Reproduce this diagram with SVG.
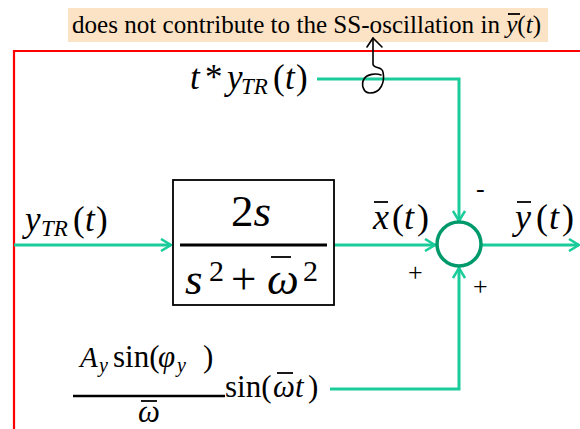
<svg xmlns="http://www.w3.org/2000/svg" width="580" height="429" viewBox="0 0 580 429">
<style>
.i{font-style:italic}
.g{stroke:#1ACC99;stroke-width:3;fill:none}
.ob{stroke:#000;stroke-width:1.8}
</style>
<defs>
<marker id="ah" markerWidth="14" markerHeight="14" refX="11" refY="7" orient="auto" markerUnits="userSpaceOnUse">
<path d="M1,1 L11,7 L1,13" fill="none" stroke="#1ACC99" stroke-width="2.5"/>
</marker>
</defs>
<rect x="0" y="0" width="580" height="429" fill="#fff"/>
<g font-family="Liberation Serif" fill="#000">
<g id="note">
<rect x="68" y="8" width="480" height="34" fill="#FCE3C5"/>
<text x="72" y="33" font-size="25.1">does not contribute to the SS-oscillation in <tspan class="i">y</tspan>(<tspan class="i">t</tspan>)</text>
<line class="ob" x1="508" y1="14" x2="520" y2="14" stroke-width="1.5"/>
</g>
<g id="frame">
<path d="M14,429 L14,51 L580,51" fill="none" stroke="#F00" stroke-width="2.2"/>
</g>
<g id="connectors">
<path class="g" d="M317,79 L459,79 L459,221" marker-end="url(#ah)"/>
<path class="g" d="M14,245 L171,245" marker-end="url(#ah)"/>
<path class="g" d="M334,245 L435,245" marker-end="url(#ah)"/>
<path class="g" d="M482,245 L579,245" marker-end="url(#ah)"/>
<path class="g" d="M330,389 L459,389 L459,268" marker-end="url(#ah)"/>
</g>
<g id="hand-arrow" fill="none" stroke="#000" stroke-width="1.6" stroke-linecap="round" stroke-linejoin="round">
<path d="M373,38 L373,64 C373,69 382,66 383,72 C385,82 381,93 370,93 C363,93 361,84 364,79 C367,74 376,73 381,75"/>
<path d="M367,47 L373,38 L382,47"/>
</g>
<g id="label-tytr" font-size="35">
<text y="89"><tspan class="i" x="190">t</tspan><tspan x="205">*</tspan><tspan class="i" x="227">y</tspan><tspan class="i" x="241" dy="5" font-size="23">TR</tspan><tspan x="273" dy="-5">(</tspan><tspan class="i" x="285">t</tspan><tspan x="296">)</tspan></text>
</g>
<g id="label-ytr" font-size="35">
<text y="231"><tspan class="i" x="25">y</tspan><tspan class="i" x="41" dy="5" font-size="23">TR</tspan><tspan x="73" dy="-5">(</tspan><tspan class="i" x="85">t</tspan><tspan x="96">)</tspan></text>
</g>
<g id="block">
<rect x="173" y="180" width="161" height="125" fill="#fff" stroke="#000" stroke-width="1.8"/>
<line x1="180" y1="245" x2="327" y2="245" stroke="#000" stroke-width="3.2"/>
<text x="251" y="226" font-size="45" text-anchor="middle">2<tspan class="i">s</tspan></text>
<text class="i" x="185" y="294" font-size="45">s</text>
<text x="209" y="281" font-size="30">2</text>
<text x="231" y="294" font-size="45">+</text>
<text class="i" x="267" y="294" font-size="45">ω</text>
<line class="ob" x1="271" y1="257" x2="291" y2="257" stroke-width="2.5"/>
<text x="303" y="281" font-size="30">2</text>
</g>
<g id="label-xbar" font-size="36">
<text y="229"><tspan class="i" x="373">x</tspan><tspan x="392">(</tspan><tspan class="i" x="404">t</tspan><tspan x="417">)</tspan></text>
<line class="ob" x1="374" y1="202" x2="388" y2="202" stroke-width="2"/>
</g>
<g id="sum">
<circle cx="459" cy="244" r="22" fill="#fff" stroke="#00996B" stroke-width="3.5"/>
<text x="476" y="197" font-size="26">-</text>
<text x="408" y="281" font-size="26">+</text>
<text x="473" y="295" font-size="26">+</text>
</g>
<g id="label-ybar" font-size="36">
<text y="229"><tspan class="i" x="515">y</tspan><tspan x="536">(</tspan><tspan class="i" x="549">t</tspan><tspan x="562">)</tspan></text>
<line class="ob" x1="517" y1="202" x2="531" y2="202" stroke-width="2"/>
</g>
<g id="label-sin" font-size="31">
<text y="367"><tspan class="i" x="80" font-size="29">A</tspan><tspan class="i" x="99" dy="5" font-size="20">y</tspan><tspan x="113" dy="-5">sin(</tspan><tspan class="i" x="158">φ</tspan><tspan class="i" x="177" dy="5" font-size="20">y</tspan><tspan x="203" dy="-5">)</tspan></text>
<line x1="73" y1="396" x2="225" y2="396" stroke="#000" stroke-width="2.5"/>
<text class="i" x="138" y="422" font-size="31">ω</text>
<line class="ob" x1="141" y1="401" x2="157" y2="401" stroke-width="2"/>
<text y="397"><tspan x="225">sin(</tspan><tspan class="i" x="273">ω</tspan><tspan class="i" x="295">t</tspan><tspan x="308">)</tspan></text>
<line class="ob" x1="277" y1="373" x2="293" y2="373" stroke-width="2"/>
</g>
</g>
</svg>
